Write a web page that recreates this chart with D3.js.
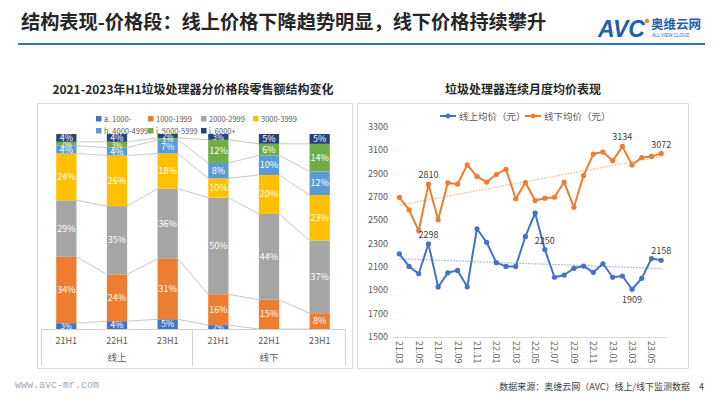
<!DOCTYPE html>
<html><head><meta charset="utf-8">
<script src="https://cdn.jsdelivr.net/npm/d3@7"></script>
<style>
body{margin:0;background:#fff;}
svg{display:block;font-family:"Noto Sans CJK SC","Noto Sans",sans-serif;}
</style></head>
<body><svg id="c" width="720" height="405"></svg>
<script>
// ---------- data ----------
const barCategories = ["21H1","22H1","23H1","21H1","22H1","23H1"];
const barGroups = ["线上","线下"];
const seriesNames = ["a. 1000-","1000-1999","2000-2999","3000-3999","h. 4000-4999","i. 5000-5999","j. 6000+"];
const seriesColors = ["#4472C4","#ED7D31","#A5A5A5","#FFC000","#5B9BD5","#70AD47","#264478"];
const p1000 = [3,4,5,2,0,0];
const p1999 = [34,24,31,16,15,8];
const p2999 = [29,35,36,50,44,37];
const p3999 = [24,26,18,10,20,23];
const p4999 = [4,4,7,8,10,12];
const p5999 = [2,3,1,12,6,14];
const p6000 = [4,4,2,3,5,5];

const months = ["21.03","21.04","21.05","21.06","21.07","21.08","21.09","21.10","21.11","21.12",
  "22.01","22.02","22.03","22.04","22.05","22.06","22.07","22.08","22.09","22.10","22.11","22.12",
  "23.01","23.02","23.03","23.04","23.05","23.06"];
const onlinePrice = [2212,2105,2042,2298,1929,2050,2071,1930,2428,2312,2137,2105,2105,2362,2562,2250,2012,2031,2089,2108,2054,2128,2012,2023,1909,2003,2172,2158];
const offlinePrice = [2697,2590,2410,2810,2505,2822,2810,2975,2876,2828,2893,2938,2685,2824,2670,2690,2698,2828,2612,2884,3068,3085,3010,3134,2975,3038,3048,3072];
const onlineLabelIdx = [3,15,24,27];
const offlineLabelIdx = [3,23,27];
const yTicks = [1500,1700,1900,2100,2300,2500,2700,2900,3100,3300];

const svg = d3.select("#c");

// ---------- header ----------
svg.append("text").attr("x",21).attr("y",29).attr("font-size",19.2).attr("font-weight","bold")
  .attr("fill","#262626").text("结构表现-价格段：线上价格下降趋势明显，线下价格持续攀升");
svg.append("rect").attr("x",18).attr("y",43).attr("width",687).attr("height",2).attr("fill","#2E75C5");
// logo
svg.append("text").attr("x",598).attr("y",37).attr("font-size",23).attr("font-weight","bold")
  .attr("font-style","italic").attr("fill","#1F5FB0").attr("font-family","Liberation Sans, Arial").text("AVC");
svg.append("circle").attr("cx",647).attr("cy",21).attr("r",2.2).attr("fill","#F08A24");
svg.append("text").attr("x",651).attr("y",29).attr("font-size",12.5).attr("font-weight","bold")
  .attr("fill","#1F5FB0").text("奥维云网");
svg.append("text").attr("x",652).attr("y",37).attr("font-size",4.5).attr("fill","#1F5FB0")
  .attr("font-family","Liberation Sans").text("ALL VIEW CLOUD");

// ---------- panels ----------
svg.append("rect").attr("x",37.5).attr("y",103.5).attr("width",315).attr("height",265)
  .attr("fill","none").attr("stroke","#d9d9d9");
svg.append("rect").attr("x",357.5).attr("y",103.5).attr("width",331).attr("height",265)
  .attr("fill","none").attr("stroke","#d9d9d9");

// ---------- left chart ----------
svg.append("text").attr("x",193).attr("y",94).attr("text-anchor","middle").attr("font-size",12)
  .attr("font-weight","bold").attr("fill","#262626").text("2021-2023年H1垃圾处理器分价格段零售额结构变化");

// legend (drawn first so bars overlap it)
const legX = [96,148,201,253];
seriesNames.forEach((n,i)=>{
  const row = i<4?0:1, col = i<4?i:i-4;
  const g = svg.append("g").attr("transform",`translate(${legX[col]},${row?131:119})`);
  g.append("rect").attr("x",0).attr("y",-3).attr("width",5.5).attr("height",5.5).attr("fill",seriesColors[i]);
  g.append("text").attr("x",8).attr("y",2.5).attr("font-size",7.5).attr("fill","#595959").text(n);
});

const rows = barCategories.map((c,i)=>({i, s0:p1000[i],s1:p1999[i],s2:p2999[i],s3:p3999[i],s4:p4999[i],s5:p5999[i],s6:p6000[i]}));
const keys = ["s0","s1","s2","s3","s4","s5","s6"];
const stacked = d3.stack().keys(keys).offset(d3.stackOffsetExpand)(rows);
const xb = d3.scaleBand().domain(d3.range(6)).range([41,345]).paddingInner(0.6).paddingOuter(0.3);
const yb = d3.scaleLinear().domain([0,1]).range([329,134]);
const bw = xb.bandwidth();

// series lines
stacked.slice(0,6).forEach((s,k)=>{
  for(let i=0;i<5;i++){
    svg.append("line").attr("x1",xb(i)+bw).attr("x2",xb(i+1))
      .attr("y1",yb(s[i][1])).attr("y2",yb(s[i+1][1]))
      .attr("stroke","#c8c8c8").attr("stroke-width",1);
  }
});
stacked.forEach((s,k)=>{
  const g = svg.append("g");
  g.selectAll("rect").data(s).join("rect")
    .attr("x",(d,i)=>xb(i)).attr("width",bw)
    .attr("y",d=>Math.min(yb(d[1]), yb(d[0])-1.2))
    .attr("height",d=>Math.max(yb(d[0])-yb(d[1]),1.2))
    .attr("fill",seriesColors[k]);
  g.selectAll("text").data(s).join("text")
    .attr("x",(d,i)=>xb(i)+bw/2)
    .attr("y",d=>Math.min((yb(d[0])+yb(d[1]))/2+3, 331))
    .attr("text-anchor","middle")
    .attr("font-size",d=>d.data[keys[k]]<=3?7.5:9).attr("fill","#fff")
    .text((d,i)=>d.data[keys[k]]+"%");
});
// category axis table
svg.append("line").attr("x1",41).attr("x2",345).attr("y1",329.5).attr("y2",329.5).attr("stroke","#d0d0d0");
[41,192,345].forEach(x=>svg.append("line").attr("x1",x+0.5).attr("x2",x+0.5).attr("y1",329).attr("y2",366).attr("stroke","#d0d0d0"));
barCategories.forEach((c,i)=>svg.append("text").attr("x",xb(i)+bw/2).attr("y",344).attr("text-anchor","middle")
  .attr("font-size",9).attr("fill","#595959").text(c));
barGroups.forEach((g,j)=>{
  const cx = (xb(j*3)+xb(j*3+2)+bw)/2;
  svg.append("text").attr("x",cx).attr("y",361).attr("text-anchor","middle").attr("font-size",9.5)
    .attr("fill","#595959").text(g);
});

// ---------- right chart ----------
svg.append("text").attr("x",523).attr("y",94).attr("text-anchor","middle").attr("font-size",12)
  .attr("font-weight","bold").attr("fill","#262626").text("垃圾处理器连续月度均价表现");

const xr = d3.scaleBand().domain(months).range([394.5,666]);
const px = m => xr(m)+xr.bandwidth()/2;
const yr = d3.scaleLinear().domain([1500,3300]).range([337,127]);

yTicks.forEach(t=>svg.append("text").attr("x",388).attr("y",yr(t)+3).attr("text-anchor","end")
  .attr("font-size",9).attr("fill","#595959").text(t));
svg.append("line").attr("x1",394.5).attr("x2",666).attr("y1",337.5).attr("y2",337.5).attr("stroke","#d9d9d9");
months.forEach((m,i)=>{ if(i%2===0)
  svg.append("text").attr("transform",`translate(${px(m)-3},341) rotate(90)`)
    .attr("font-size",9).attr("fill","#595959").text(m);
});

function trend(vals){
  const n=vals.length, xs=d3.range(n);
  const mx=d3.mean(xs), my=d3.mean(vals);
  const b=d3.sum(xs,(x,i)=>(x-mx)*(vals[i]-my))/d3.sum(xs,x=>(x-mx)*(x-mx));
  const a=my-b*mx;
  return [a, a+b*(n-1)];
}
function drawSeries(vals,color,tcolor,labelIdx,below){
  const t = trend(vals);
  svg.append("line").attr("x1",px(months[0])).attr("x2",px(months[months.length-1]))
    .attr("y1",yr(t[0])).attr("y2",yr(t[1])).attr("stroke",tcolor).attr("stroke-width",1.2)
    .attr("stroke-dasharray","1.5,1.5");
  const line = d3.line().x((d,i)=>px(months[i])).y(d=>yr(d));
  svg.append("path").attr("d",line(vals)).attr("fill","none").attr("stroke",color).attr("stroke-width",2)
    .attr("stroke-linejoin","round");
  svg.append("g").selectAll("circle").data(vals).join("circle")
    .attr("cx",(d,i)=>px(months[i])).attr("cy",d=>yr(d)).attr("r",2.6).attr("fill",color);
  labelIdx.forEach(i=>{
    const dn = below.includes(i);
    svg.append("text").attr("x",px(months[i])).attr("y",yr(vals[i])+(dn?14:-6))
      .attr("text-anchor","middle").attr("font-size",9).attr("fill","#404040").text(vals[i]);
  });
}
drawSeries(offlinePrice,"#ED7D31","#F4B183",offlineLabelIdx,[]);
drawSeries(onlinePrice,"#4472C4","#8FAADC",onlineLabelIdx,[24]);

// legend right
const lgr = [{n:"线上均价（元）",c:"#4472C4",x:440},{n:"线下均价（元）",c:"#ED7D31",x:525}];
lgr.forEach(l=>{
  svg.append("line").attr("x1",l.x).attr("x2",l.x+16).attr("y1",116).attr("y2",116).attr("stroke",l.c).attr("stroke-width",2);
  svg.append("circle").attr("cx",l.x+8).attr("cy",116).attr("r",2.4).attr("fill",l.c);
  svg.append("text").attr("x",l.x+19).attr("y",119.5).attr("font-size",9.5).attr("fill","#595959").text(l.n);
});

// ---------- footer ----------
svg.append("text").attr("x",15).attr("y",388).attr("font-size",10).attr("fill","#a6a6a6")
  .attr("font-family","Liberation Mono, DejaVu Sans Mono, monospace").text("www.avc-mr.com");
svg.append("text").attr("x",690).attr("y",390).attr("text-anchor","end").attr("font-size",9)
  .attr("fill","#404040").text("数据来源：奥维云网（AVC）线上/线下监测数据");
svg.append("text").attr("x",699).attr("y",390).attr("font-size",9).attr("fill","#404040").text("4");
</script></body></html>
